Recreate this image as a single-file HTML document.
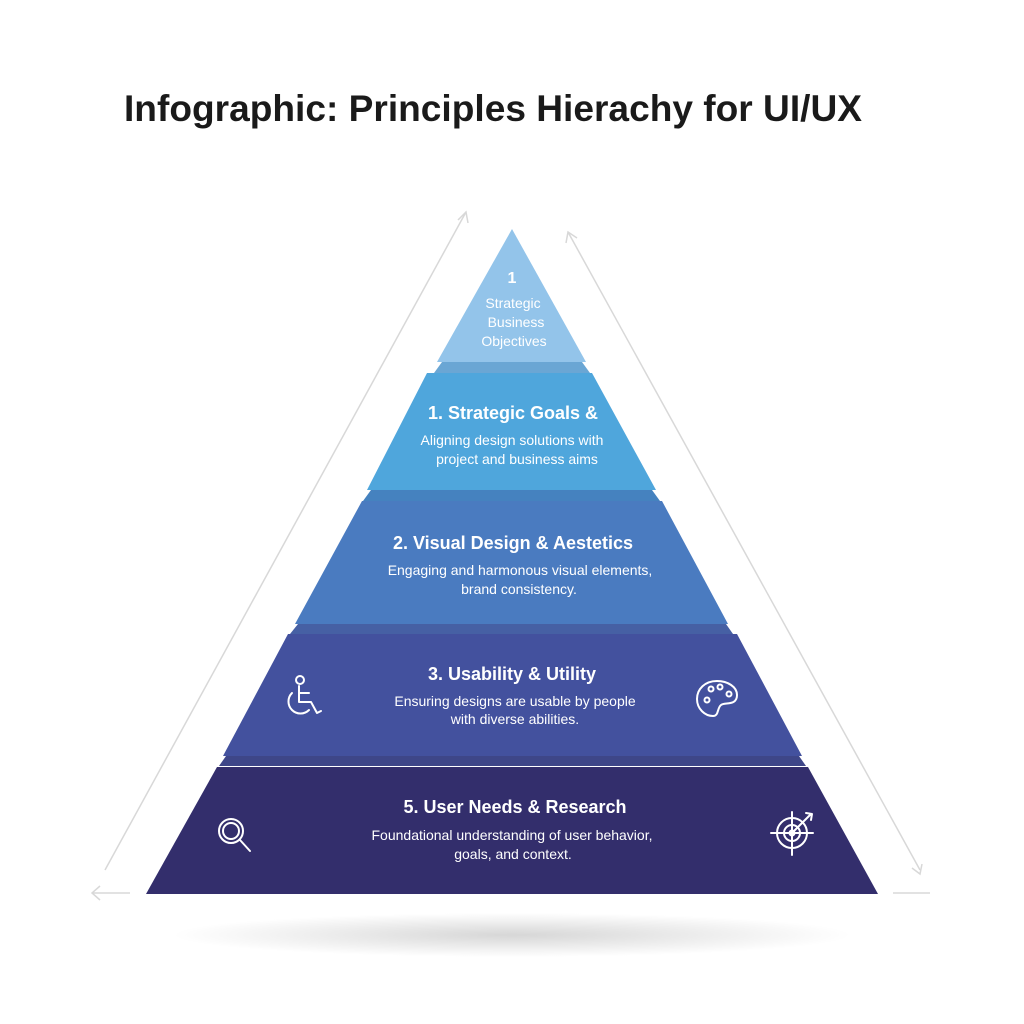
<!DOCTYPE html>
<html><head><meta charset="utf-8"><style>
html,body{margin:0;padding:0;background:#fff;}
body{width:1024px;height:1024px;overflow:hidden;}
svg{display:block}
text{font-family:"Liberation Sans",sans-serif;fill:#fff;text-anchor:middle}
</style></head><body>
<svg width="1024" height="1024" viewBox="0 0 1024 1024">
<defs>
<radialGradient id="sh" cx="0.5" cy="0.5" r="0.5">
<stop offset="0" stop-color="#000" stop-opacity="0.16"/>
<stop offset="1" stop-color="#000" stop-opacity="0"/>
</radialGradient>
</defs>
<rect width="1024" height="1024" fill="#fff"/>
<text x="493" y="121" textLength="738" lengthAdjust="spacingAndGlyphs" style="fill:#1a1a1a;font-weight:bold;font-size:37px">Infographic: Principles Hierachy for UI/UX</text>
<ellipse cx="512" cy="935" rx="340" ry="22" fill="url(#sh)"/>
<g stroke="#d8d8d8" stroke-width="1.5" fill="none">
<path d="M466 212 L105 870"/>
<path d="M458 220 L466 212 L468 223"/>
<path d="M92 893 L130 893"/>
<path d="M100 886 L92 893 L100 900"/>
<path d="M568 232 L920 870"/>
<path d="M566 243 L568 232 L577 238"/>
<path d="M912 868 L920 874 L922 864"/>
<path d="M893 893 L930 893"/>
</g>
<polygon points="442,362 582,362 590,373 434,373" fill="#6aa6d4"/>
<polygon points="512,229 586,362 437,362" fill="#93c4ea"/>
<polygon points="371,490 652,490 660,501 363,501" fill="#4582bf"/>
<polygon points="427,373 592,373 656,490 367,490" fill="#4fa6dc"/>
<polygon points="298,624 726,624 733,634 290,634" fill="#4660a4"/>
<polygon points="362,501 662,501 728,624 295,624" fill="#4a7bc0"/>
<polygon points="226,756 799,756 806,766 219,766" fill="#3e4688"/>
<polygon points="288,634 737,634 802,756 223,756" fill="#43519e"/>
<polygon points="217,767 808,767 878,894 146,894" fill="#332e6c"/>
<text x="512" y="283" style="font-weight:bold;font-size:16px">1</text>
<text x="513" y="308" style="font-size:14px">Strategic</text>
<text x="516" y="327" style="font-size:14px">Business</text>
<text x="514" y="346" style="font-size:14px">Objectives</text>
<text x="513" y="419" style="font-weight:bold;font-size:18px">1. Strategic Goals &amp;</text>
<text x="512" y="445" style="font-size:14px">Aligning design solutions with</text>
<text x="517" y="464" style="font-size:14px">project and business aims</text>
<text x="513" y="549" style="font-weight:bold;font-size:18px">2. Visual Design &amp; Aestetics</text>
<text x="520" y="575" style="font-size:14px">Engaging and harmonous visual elements,</text>
<text x="519" y="594" style="font-size:14px">brand consistency.</text>
<text x="512" y="680" style="font-weight:bold;font-size:18px">3. Usability &amp; Utility</text>
<text x="515" y="706" style="font-size:14px">Ensuring designs are usable by people</text>
<text x="515" y="724" style="font-size:14px">with diverse abilities.</text>
<text x="515" y="813" style="font-weight:bold;font-size:18px">5. User Needs &amp; Research</text>
<text x="512" y="840" style="font-size:14px">Foundational understanding of user behavior,</text>
<text x="513" y="859" style="font-size:14px">goals, and context.</text>
<g stroke="#fff" stroke-width="2" fill="none" stroke-linecap="round" stroke-linejoin="round">
<circle cx="300" cy="680" r="4"/>
<path d="M299 686 L299 702 L311 702 L317 713 L321 711"/>
<path d="M299 693 L309 693"/>
<path d="M292 693 A11 11 0 1 0 309 710"/>
<path d="M717 681 C705 681 697 689 697 699 C697 709 705 716 713 716 C719 716 717 708 721 705 C725 702 737 706 737 695 C737 687 728 681 717 681 Z"/>
<circle cx="711" cy="689" r="2.5"/><circle cx="720" cy="687" r="2.5"/><circle cx="729" cy="694" r="2.5"/><circle cx="707" cy="700" r="2.5"/>
<circle cx="231" cy="831" r="12"/>
<circle cx="231" cy="831" r="8"/>
<path d="M240 840 L250 851"/>
<circle cx="792" cy="833" r="15"/>
<circle cx="792" cy="833" r="8"/>
<circle cx="792" cy="833" r="2.5"/>
<path d="M792 812 L792 855 M771 833 L813 833"/>
<path d="M792 833 L811 814 M806 813 L812 814 L811 820"/>
</g>
</svg>
</body></html>
